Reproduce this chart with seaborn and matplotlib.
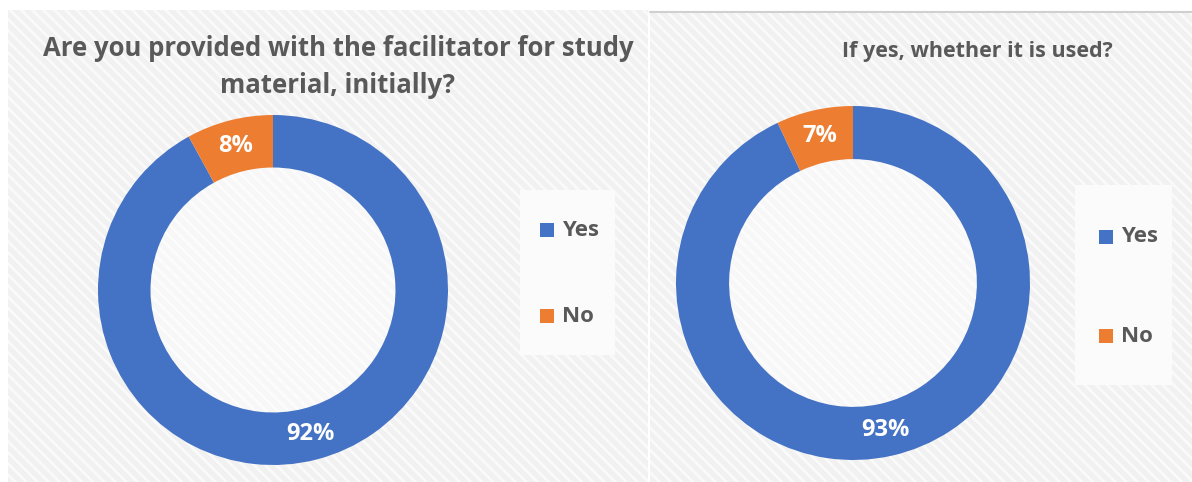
import matplotlib
matplotlib.use("Agg")
import matplotlib.pyplot as plt
import seaborn as sns
from matplotlib.patches import Rectangle, Circle

# data
labels = ["Yes", "No"]
provided = [92, 8]
used = [93, 7]
title_left = "Are you provided with the facilitator for study\nmaterial, initially?"
title_right = "If yes, whether it is used?"
colors = ["#4472C4", "#ED7D31"]

sns.set_style("white")
plt.rcParams['font.family'] = ['Open Sans', 'DejaVu Sans']
plt.rcParams['hatch.linewidth'] = 2.0

W, H = 1192, 482
fig = plt.figure(figsize=(W / 100, H / 100), dpi=100)
fig.patch.set_facecolor("white")


def px(x, y, w, h):
    # pixel box (top-left origin) -> figure fraction
    return [x / W, 1 - (y + h) / H, w / W, h / H]


# panel backgrounds
for (x0, y0, w, h) in [(8, 10, 640, 472), (650, 12, 542, 470)]:
    b = px(x0, y0, w, h)
    fig.patches.append(Rectangle((b[0], b[1]), b[2], b[3], transform=fig.transFigure,
                                 facecolor="#f1f1f1", edgecolor="#fafafa", hatch="\\\\\\",
                                 linewidth=0, zorder=0))
# gray top border of right panel
fig.add_artist(plt.Line2D([650 / W, 1], [1 - 12 / H, 1 - 12 / H], color="#d0d0d0", lw=1.5))

# legend boxes
for (x0, y0, w, h) in [(520, 190, 95, 165), (1075, 185, 97, 200)]:
    b = px(x0, y0, w, h)
    fig.patches.append(Rectangle((b[0], b[1]), b[2], b[3], transform=fig.transFigure,
                                 facecolor="#fbfbfb", edgecolor="none", zorder=1))


def donut(box, values):
    ax = fig.add_axes(px(*box))
    ax.set_zorder(3)
    ax.set_facecolor("none")
    # soft glow in the hole
    ax.add_patch(Circle((0, 0), 0.7, facecolor="white", alpha=0.45, edgecolor="none"))
    ax.pie(values, colors=colors, startangle=90, counterclock=False,
           radius=1, autopct="%d%%", pctdistance=0.85,
           wedgeprops=dict(width=0.3, edgecolor="none"),
           textprops=dict(color="white", fontsize=17, fontweight="bold"))
    ax.set_xlim(-1, 1)
    ax.set_ylim(-1, 1)
    ax.set_aspect("equal")
    ax.axis("off")


donut((98, 115, 350, 350), provided)
donut((676, 106, 354, 354), used)

title_kw = dict(fontweight="bold", color="#595959", ha="center", va="center", linespacing=1.5)
fig.text(338 / W, 1 - 67 / H, title_left, fontsize=18.5, **title_kw)
fig.text(977 / W, 1 - 51 / H, title_right, fontsize=15.5, **title_kw)

# legends
legend_spots = [(540, [230, 316]), (1099, [237, 336])]
for lx, ys in legend_spots:
    for yy, col, lab in zip(ys, colors, labels):
        fig.patches.append(Rectangle((lx / W, 1 - (yy + 7) / H), 14 / W, 14 / H,
                                     transform=fig.transFigure, facecolor=col,
                                     edgecolor="none", zorder=2))
        fig.text((lx + 22) / W, 1 - yy / H, lab, fontsize=16, fontweight="bold",
                 color="#595959", va="center", ha="left")

fig.savefig("out.png", dpi=100)
